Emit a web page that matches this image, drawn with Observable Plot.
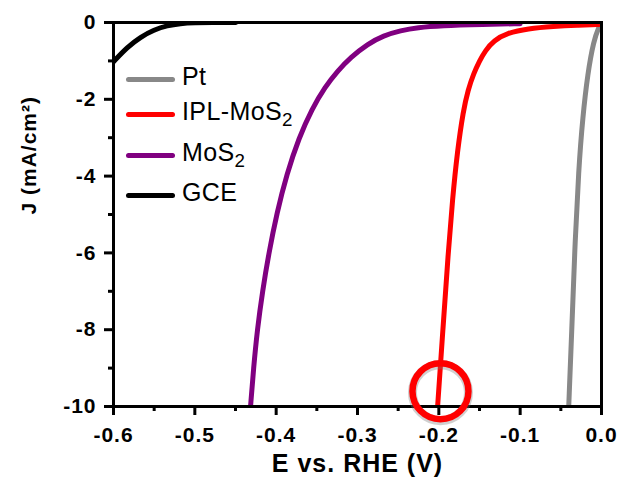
<!DOCTYPE html>
<html><head><meta charset="utf-8">
<script src="https://cdn.jsdelivr.net/npm/d3@7"></script>
<script src="https://cdn.jsdelivr.net/npm/@observablehq/plot@0.6"></script>
<style>
body{margin:0;background:#fff;}
#wrap{position:relative;width:620px;height:488px;}
#legend{position:absolute;left:126px;top:0;font-family:"Liberation Sans",Arial,sans-serif;font-size:25px;color:#000;}
.row{position:absolute;left:0;height:25px;line-height:25px;white-space:nowrap;}
.sw{position:absolute;left:0;width:49px;height:5px;border-radius:2.5px;}
.lab{position:absolute;left:56px;top:0;letter-spacing:0.4px;}
.lab sub{font-size:0.75em;vertical-align:-0.3em;line-height:0;}
svg text{letter-spacing:1px;}
</style></head><body><div id="wrap"></div>
<script>
// Series
const seriesNames = ["Pt", "IPL-MoS2", "MoS2", "GCE"];
const seriesColors = ["#888888", "#ff0000", "#800080", "#000000"];

// Pt
const ptE = [-0.0403, -0.0365, -0.0330, -0.0280, -0.0231, -0.0170, -0.0096, -0.0034, 0];
const ptJ = [-10, -8, -5.94, -3.78, -2.47, -1.33, -0.47, -0.13, 0];

// IPL-MoS2
const iplE = [-0.2015, -0.1950, -0.1885, -0.1832, -0.1772, -0.1700, -0.1640, -0.1572, -0.1500, -0.1430, -0.1326, -0.1154, -0.0908, -0.0588, -0.0300, 0];
const iplJ = [-10, -8.0, -6.0, -4.6, -3.35, -2.3, -1.75, -1.33, -1.0, -0.74, -0.47, -0.27, -0.16, -0.10, -0.07, -0.05];

// MoS2
const mosE = [-0.4315, -0.4278, -0.4232, -0.4168, -0.4090, -0.3990, -0.3870, -0.3720, -0.3560, -0.3400, -0.3240, -0.3085, -0.2876, -0.2679, -0.2470, -0.2261, -0.1978, -0.1449, -0.10];
const mosJ = [-10, -9.0, -8.0, -7.0, -6.0, -4.95, -3.95, -3.0, -2.25, -1.68, -1.25, -0.91, -0.56, -0.34, -0.21, -0.13, -0.08, -0.05, -0.03];

// GCE
const gceE = [-0.6, -0.583, -0.567, -0.55, -0.534, -0.518, -0.5, -0.48, -0.45];
const gceJ = [-1.02, -0.64, -0.38, -0.19, -0.078, -0.025, -0.006, 0, 0];

// Ticks
const xMajor = [-0.6, -0.5, -0.4, -0.3, -0.2, -0.1, 0];
const xMinor = [-0.55, -0.45, -0.35, -0.25, -0.15, -0.05];
const yMajor = [-10, -8, -6, -4, -2, 0];
const yMinor = [-9, -7, -5, -3, -1];

// Annotation circle
const markE = [-0.198];
const markJ = [-9.6];

const seriesE = [ptE, iplE, mosE, gceE];
const seriesJ = [ptJ, iplJ, mosJ, gceJ];
const data = [];
seriesNames.forEach((s, i) => seriesE[i].forEach((e, k) => data.push({series: s, E: e, J: seriesJ[i][k]})));
const marks = markE.map((e, i) => ({E: e, J: markJ[i]}));

const font = "'Liberation Sans', Arial, sans-serif";
const chart = Plot.plot({
  width: 620, height: 488,
  marginLeft: 113, marginRight: 19, marginTop: 22, marginBottom: 82,
  style: {fontFamily: font, fontSize: "21px", fontWeight: "bold", background: "#fff", overflow: "visible"},
  x: {domain: [-0.6, 0], label: null},
  y: {domain: [-10, 0], label: null},
  color: {domain: seriesNames, range: seriesColors},
  marks: [
    Plot.line(data, {x: "E", y: "J", z: "series", stroke: "series", strokeWidth: 5, curve: "basis", clip: true}),
    Plot.axisX({ticks: xMinor, tickSize: 5, tickFormat: () => "", strokeWidth: 3}),
    Plot.axisX({ticks: xMajor, tickSize: 9, tickPadding: 12, strokeWidth: 3, fontSize: 21, fontWeight: "bold", tickFormat: d => d.toFixed(1)}),
    Plot.axisY({ticks: yMinor, tickSize: 5, tickFormat: () => "", strokeWidth: 3}),
    Plot.axisY({ticks: yMajor, tickSize: 9, tickPadding: 8, strokeWidth: 3, fontSize: 21, fontWeight: "bold", tickFormat: d => String(d)}),
    Plot.frame({stroke: "#000", strokeWidth: 3}),
    Plot.text(["E vs. RHE (V)"], {text: d => d, frameAnchor: "bottom", dy: 65, fontSize: 25, fontWeight: "bold"}),
    Plot.text(["J (mA/cm²)"], {text: d => d, frameAnchor: "left", rotate: -90, dx: -84, fontSize: 21, fontWeight: "bold"}),
    Plot.dot(marks, {x: "E", y: "J", r: 28, stroke: "#777", strokeOpacity: 0.35, strokeWidth: 9, dy: 1.5}),
    Plot.dot(marks, {x: "E", y: "J", r: 28, stroke: "#ff0000", strokeWidth: 6.5, fill: "none"})
  ]
});
const wrap = document.getElementById("wrap");
wrap.appendChild(chart);

// Legend
const legendBaselines = [85, 120, 161, 201];
const legendLabels = ["Pt", "IPL-MoS<sub>2</sub>", "MoS<sub>2</sub>", "GCE"];
const legend = document.createElement("div");
legend.id = "legend";
seriesNames.forEach((s, i) => {
  const row = document.createElement("div");
  row.className = "row";
  row.style.top = (legendBaselines[i] - 21) + "px";
  const sw = document.createElement("div");
  sw.className = "sw";
  sw.style.background = seriesColors[i];
  sw.style.top = (21 - 5.5 - 2.5) + "px";
  const lab = document.createElement("div");
  lab.className = "lab";
  lab.innerHTML = legendLabels[i];
  row.appendChild(sw); row.appendChild(lab);
  legend.appendChild(row);
});
wrap.appendChild(legend);
</script></body></html>
